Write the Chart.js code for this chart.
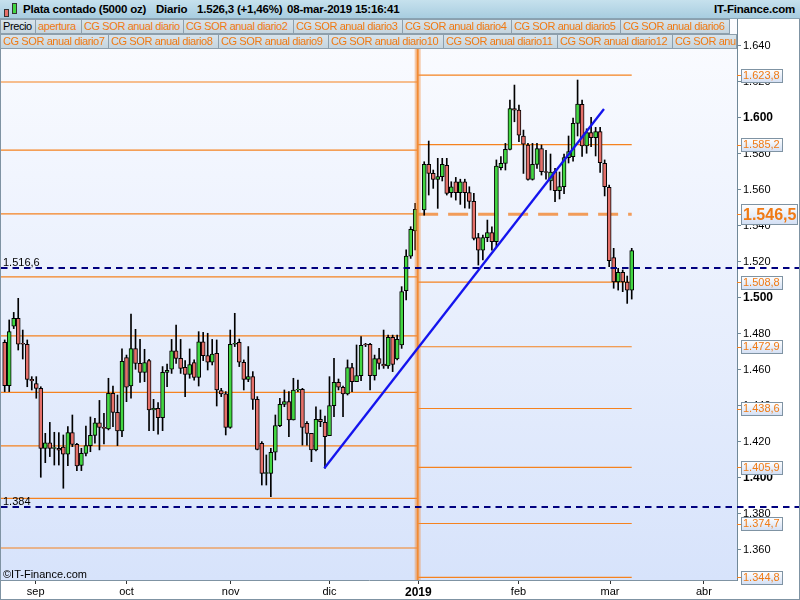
<!DOCTYPE html>
<html><head><meta charset="utf-8">
<script src="https://cdn.jsdelivr.net/npm/chart.js@4/dist/chart.umd.min.js"></script>
<style>
body{margin:0;width:800px;height:600px;overflow:hidden;background:#fff;font-family:"Liberation Sans",Arial,sans-serif;}
#wrap{position:relative;width:800px;height:600px;}
canvas{position:absolute;left:0;top:0;}
#hdr{position:absolute;left:0;top:0;width:800px;height:19px;background:linear-gradient(#c6e1ed,#a8cde0);border-bottom:1px solid #89a3b3;box-sizing:border-box;font-weight:bold;font-size:11.5px;letter-spacing:-0.2px;color:#000;}
.h{position:absolute;top:3px;white-space:nowrap;}
.lg{position:absolute;height:15px;box-sizing:border-box;border:1px solid #8d9fac;background:linear-gradient(#d9e4eb,#c5d5df);color:#f07a14;font-size:11px;line-height:13px;padding-left:2px;white-space:nowrap;overflow:hidden;letter-spacing:-0.4px;}
.ic{position:absolute;border:1px solid #333;box-sizing:border-box;}
</style></head>
<body><div id="wrap">
<canvas id="c" width="800" height="600"></canvas>
<div id="hdr">
 <div class="ic" style="left:4px;top:9px;width:5px;height:8px;background:#e5706a"></div>
 <div class="ic" style="left:12px;top:3px;width:5px;height:11px;background:#42d742"></div>
 <span class="h" style="left:23px">Plata contado (5000 oz)</span>
 <span class="h" style="left:156px">Diario</span>
 <span class="h" style="left:197px">1.526,3 (+1,46%)</span>
 <span class="h" style="left:287px">08-mar-2019 15:16:41</span>
 <span class="h" style="right:5px">IT-Finance.com</span>
</div>
<div id="legend"></div>
</div>
<script>
// ---------- data ----------
const legendRow1 = ["Precio","apertura","CG SOR anual diario","CG SOR anual diario2","CG SOR anual diario3","CG SOR anual diario4","CG SOR anual diario5","CG SOR anual diario6"];
const legendRow2 = ["CG SOR anual diario7","CG SOR anual diario8","CG SOR anual diario9","CG SOR anual diario10","CG SOR anual diario11","CG SOR anual diario12","CG SOR anual diario13"];

const openV = [1475.4,1451.3,1484.4,1488.7,1474.8,1474.3,1454.8,1452.4,1449.8,1416.5,
1419.6,1416.5,1416.5,1417.2,1413.3,1425.2,1418.7,1407.0,1413.7,1418.0,
1423.7,1430.7,1428.1,1427.2,1447.0,1436.5,1426.1,1466.9,1451.1,1471.9,
1463.7,1458.7,1465.2,1437.8,1438.7,1433.5,1458.7,1460.4,1470.7,1466.5,
1461.5,1457.6,1464.1,1455.9,1475.7,1468.0,1464.3,1469.3,1448.5,1446.7,
1428.1,1474.4,1475.4,1464.3,1454.8,1456.3,1443.7,1419.3,1402.6,1402.6,
1414.3,1429.1,1440.9,1442.4,1432.2,1448.9,1449.3,1430.4,1424.8,1415.6,
1432.6,1430.9,1423.5,1440.2,1453.1,1450.4,1446.7,1461.3,1453.5,1456.9,
1474.4,1474.3,1456.9,1466.3,1463.3,1462.2,1478.1,1466.1,1473.9,1504.1,
1523.3,1537.2,null,1548.9,1574.2,1569.2,1565.9,1567.4,1573.7,1558.5,
1564.6,1558.5,1564.6,1558.5,1553.7,1533.5,1526.6,1533.5,1536.3,1531.3,
1572.4,1574.8,1582.6,1605.3,1604.4,1590.0,1585.0,1565.9,1574.2,1583.0,
1570.2,1565.0,1570.2,1559.6,1561.9,1578.0,1578.5,1597.0,1607.6,1584.5,
1591.9,1589.1,1592.4,1574.8,1561.5,1522.4,1508.9,1514.3,1508.9,1504.4];
const closeV = [1451.3,1481.3,1488.7,1474.4,1474.4,1454.8,1454.0,1449.8,1416.5,1419.6,
1416.5,1416.9,1415.4,1413.3,1425.2,1418.7,1406.7,1413.7,1418.0,1423.7,
1430.7,1428.1,1427.6,1447.0,1436.5,1426.1,1464.8,1450.4,1471.9,1463.7,
1458.7,1464.1,1437.8,1438.7,1433.5,1458.7,1459.8,1470.7,1466.5,1460.9,
1457.6,1463.0,1455.9,1475.7,1468.0,1464.3,1468.9,1448.9,1446.7,1428.1,
1474.3,1474.8,1464.3,1454.8,1456.3,1443.7,1415.9,1402.6,1403.0,1414.3,
1429.1,1440.9,1442.4,1432.2,1448.9,1449.3,1428.1,1424.8,1415.6,1432.6,
1431.3,1423.0,1440.2,1453.1,1450.4,1446.7,1461.3,1453.5,1456.9,1473.7,
1473.9,1456.9,1466.3,1463.7,1462.2,1478.1,1463.1,1477.0,1503.5,1523.3,
1538.1,1549.2,null,1574.2,1569.2,1565.9,1567.4,1574.2,1558.1,1561.8,
1558.5,1564.6,1558.5,1553.7,1533.1,1526.6,1533.5,1536.3,1531.3,1573.3,
1574.8,1582.6,1605.3,1604.4,1590.5,1585.5,1565.9,1574.2,1583.0,1570.2,
1570.0,1570.0,1559.6,1561.9,1578.0,1581.3,1597.0,1607.8,1584.5,1591.9,
1589.1,1592.4,1575.2,1561.9,1520.8,1508.9,1514.3,1508.9,1504.3,1526.3];
const highV = [1476.7,1487.8,1492.0,1499.8,1482.2,1476.7,1456.3,1456.3,1450.7,1424.8,
1430.9,1425.4,1425.2,1423.9,1428.5,1435.0,1419.3,1416.5,1428.9,1433.9,
1433.1,1443.1,1435.9,1455.4,1451.1,1446.1,1471.7,1468.3,1491.1,1482.6,
1477.0,1471.5,1465.9,1443.7,1441.9,1461.9,1463.3,1477.0,1485.0,1477.0,
1465.2,1471.7,1465.6,1481.3,1480.9,1480.4,1477.0,1476.7,1449.8,1448.0,
1482.2,1491.5,1477.2,1465.6,1473.0,1459.1,1445.2,1420.2,1412.8,1416.5,
1435.0,1444.3,1448.9,1448.0,1455.4,1454.4,1449.8,1431.3,1424.8,1439.6,
1437.8,1434.4,1456.3,1466.5,1455.0,1451.1,1465.6,1463.7,1473.9,1478.5,
1474.8,1474.8,1468.3,1472.0,1482.2,1479.4,1479.4,1479.4,1506.3,1526.7,
1539.6,1552.6,null,1575.7,1587.2,1571.1,1577.6,1577.6,1577.6,1564.6,
1567.0,1566.0,1566.0,1561.8,1558.1,1535.9,1535.0,1543.3,1539.6,1576.7,
1578.5,1585.9,1610.0,1618.3,1607.2,1593.3,1585.9,1585.9,1585.9,1585.0,
1582.0,1580.0,1572.0,1570.0,1580.0,1590.0,1600.0,1621.1,1610.0,1594.0,
1600.4,1594.8,1594.8,1576.7,1562.8,1527.6,1516.5,1515.6,1512.2,1527.6];
const lowV = [1448.0,1448.0,1483.0,1471.1,1466.1,1450.7,1448.9,1444.3,1400.4,1408.5,
1411.9,1407.2,1407.2,1394.3,1406.9,1417.4,1404.1,1404.1,1412.2,1414.6,
1419.3,1415.6,1418.9,1426.7,1428.5,1418.0,1423.0,1442.4,1444.3,1460.4,
1453.1,1453.5,1426.3,1426.3,1424.3,1426.3,1450.7,1458.1,1463.7,1458.1,
1445.2,1455.4,1454.4,1451.1,1465.2,1460.0,1462.8,1440.0,1445.2,1423.9,
1427.6,1473.0,1461.9,1448.9,1453.5,1438.1,1415.6,1396.1,1396.1,1389.6,
1410.0,1428.5,1439.6,1423.0,1432.2,1448.0,1418.3,1418.3,1409.1,1415.0,
1428.5,1405.4,1423.5,1434.1,1448.9,1434.1,1446.1,1448.0,1453.5,1454.1,
1473.0,1448.9,1454.4,1460.4,1460.9,1460.9,1459.1,1465.6,1472.0,1498.9,
1522.0,1526.7,null,1546.0,1557.2,1560.9,1549.8,1565.0,1557.2,1556.0,
1554.4,1552.0,1550.0,1549.8,1532.2,1518.3,1521.1,1531.3,1526.6,1528.5,
1571.1,1571.1,1582.2,1597.9,1586.8,1569.2,1565.5,1565.5,1572.0,1568.3,
1566.0,1560.0,1553.5,1555.0,1558.0,1575.0,1576.0,1590.0,1578.6,1580.4,
1584.1,1578.9,1569.7,1556.7,1517.4,1505.4,1504.4,1503.5,1497.0,1499.4];

// yearly levels
const levels2018 = [1620.0,1582.2,1546.7,1511.7,1479.0,1447.6,1417.8,1388.7,1361.1];
const levels2019 = [1623.8,1585.2,1508.8,1472.9,1438.6,1405.9,1374.7,1344.8];
const apertura2019 = 1546.5;
const yearStart = 91.55;   // session slot of the 2018 -> 2019 change
const lastSlot = 139;
const hLines = [1516.6, 1384.0];
const trend = [{x:70.85, y:1405.4},{x:132.85, y:1605.0}];

const monthPos = [6.87,27.0,50.1,72.0,91.7,113.9,134.2,155.0];
const monthLabels = ["sep","oct","nov","dic","2019","feb","mar","abr"];
const yTicks = [1360,1380,1400,1420,1440,1460,1480,1500,1520,1540,1560,1580,1600,1620,1640];

// ---------- legend (html) ----------
const row1W = [36,47,103,111,110,110,110,110];
const row2W = [109,111,111,116,115,116,65];
function buildRow(names, widths, top){
  let x=0; const host=document.getElementById('legend');
  names.forEach((n,i)=>{
    const d=document.createElement('div'); d.className='lg';
    d.style.left=x+'px'; d.style.top=top+'px'; d.style.width=widths[i]+'px';
    if(n==='Precio') d.style.color='#000';
    d.textContent=n; host.appendChild(d); x+=widths[i]-1;
  });
}
buildRow(legendRow1,row1W,19);
buildRow(legendRow2,row2W,34);

// ---------- helpers ----------
function fmt(v){
  const s=v.toFixed(1).split('.');
  const a=s[0];
  let r=a.slice(0,-3)+'.'+a.slice(-3);
  if(s[1]!=='0') r+=','+s[1];
  return r;
}
const ORANGE='#f5821f';
const slots = openV.map((_,i)=>i);
const bodies=[], wicks=[], bodyColors=[];
slots.forEach(i=>{
  if(openV[i]===null) return;
  let o=openV[i], c=closeV[i];
  if(Math.abs(o-c)<0.4){ c = c>=o ? o+0.4 : o-0.4; }
  bodies.push({x:i,y:[o,c]});
  wicks.push({x:i,y:[lowV[i],highV[i]]});
  bodyColors.push(closeV[i]>=openV[i] ? '#42d742' : '#e5706a');
});

const levelSets=[];
levels2018.forEach(v=>levelSets.push({type:'line',data:[{x:-2,y:v},{x:yearStart-0.1,y:v}],borderColor:ORANGE,borderWidth:1.2,pointRadius:0,order:20}));
levels2019.forEach(v=>levelSets.push({type:'line',data:[{x:yearStart+0.1,y:v},{x:lastSlot,y:v}],borderColor:ORANGE,borderWidth:1.1,pointRadius:0,order:20}));
levelSets.push({type:'line',data:[{x:yearStart+0.1,y:apertura2019},{x:lastSlot,y:apertura2019}],borderColor:'rgba(242,140,60,0.85)',borderWidth:3,borderDash:[20,10],pointRadius:0,order:19});
// vertical step between yearly sets
levelSets.push({type:'line',data:[{x:yearStart,y:1300},{x:yearStart,y:1700}],borderColor:'rgba(242,140,60,0.45)',borderWidth:6,pointRadius:0,order:3});
levelSets.push({type:'line',data:[{x:yearStart,y:1300},{x:yearStart,y:1700}],borderColor:'#f28a2c',borderWidth:2,pointRadius:0,order:3});

const bgPlugin={id:'bg',beforeDraw(ch){
  const {ctx,chartArea:a}=ch;
  ctx.save();
  ctx.fillStyle='#fff'; ctx.fillRect(0,0,800,600);
  const g=ctx.createLinearGradient(0,a.top,0,a.bottom);
  g.addColorStop(0,'#fbfcff'); g.addColorStop(1,'#d7e3fb');
  ctx.fillStyle=g; ctx.fillRect(a.left,a.top,a.right-a.left,a.bottom-a.top);
  ctx.restore();
}};
const overlay={id:'ov',afterDraw(ch){
  const {ctx,chartArea:a,scales:{y}}=ch;
  ctx.save();
  // navy dashed lines
  ctx.strokeStyle='#00007f'; ctx.lineWidth=2; ctx.setLineDash([6.5,5]);
  hLines.forEach(v=>{const py=Math.round(y.getPixelForValue(v));
    ctx.beginPath(); ctx.moveTo(1,py); ctx.lineTo(800,py); ctx.stroke();});
  ctx.setLineDash([]);
  ctx.fillStyle='#000'; ctx.font='11px "Liberation Sans", Arial'; ctx.textBaseline='alphabetic';
  hLines.forEach(v=>{const py=y.getPixelForValue(v); ctx.fillText(fmt(v),3,py-2);});
  ctx.fillText('\u00a9IT-Finance.com',3,578);
  // value labels on right axis
  const boxes=levels2019.map(v=>({v,big:false})).concat([{v:apertura2019,big:true}]);
  boxes.forEach(b=>{
    const py=y.getPixelForValue(b.v);
    ctx.strokeStyle=ORANGE; ctx.lineWidth=1;
    ctx.beginPath(); ctx.moveTo(737,Math.round(py)+0.5); ctx.lineTo(741,Math.round(py)+0.5); ctx.stroke();
    const h=b.big?20:13, w=b.big?56:41, x0=741, y0=Math.round(py-h/2)+0.5;
    const g=ctx.createLinearGradient(0,y0,0,y0+h);
    g.addColorStop(0,'#ffffff'); g.addColorStop(1,'#d3dff4');
    ctx.fillStyle=g; ctx.fillRect(x0,y0,w,h);
    ctx.strokeStyle='#7f93a3'; ctx.strokeRect(x0+0.5,y0,w,h);
    ctx.fillStyle='#f07a14';
    ctx.font=b.big?'bold 16px "Liberation Sans", Arial':'11px "Liberation Sans", Arial';
    ctx.textBaseline='middle';
    ctx.fillText(fmt(b.v),x0+2,py+ (b.big?1:0.5));
  });
  // frame
  ctx.strokeStyle='#7f93a3'; ctx.lineWidth=1;
  ctx.strokeRect(0.5,0.5,799,599);
  ctx.beginPath(); ctx.moveTo(0.5,a.top); ctx.lineTo(0.5,a.bottom); ctx.stroke();
  ctx.restore();
}};

Chart.defaults.font.family='"Liberation Sans", Arial, sans-serif';
new Chart(document.getElementById('c'),{
  type:'bar',
  data:{datasets:[
    ...levelSets,
    {type:'line',data:trend,borderColor:'#1414ee',borderWidth:2.3,pointRadius:0,order:1},
    {label:'wick',data:wicks,backgroundColor:'#000',barThickness:1,order:6,grouped:false},
    {label:'body',data:bodies,backgroundColor:bodyColors,borderColor:'#000',borderWidth:1,borderSkipped:false,barThickness:4,order:5,grouped:false}
  ]},
  options:{
    animation:false,responsive:false,
    layout:{padding:{top:19,left:1,right:0,bottom:0}},
    plugins:{legend:{display:false},tooltip:{enabled:false}},
    scales:{
      x:{type:'linear',min:-0.82,max:162.34,offset:false,
        afterBuildTicks:s=>{s.ticks=monthPos.map(v=>({value:v}));},
        afterFit:s=>{s.height=20;},
        grid:{drawOnChartArea:false,drawTicks:true,tickLength:4,color:'#333',offset:false},
        border:{color:'#7f93a3',width:1},
        ticks:{autoSkip:false,maxRotation:0,padding:1,color:'#000',
          callback:(v,i)=>monthLabels[i],
          font:c=>(c.index===4?{size:12,weight:'bold'}:{size:11})}
      },
      y:{position:'right',min:1343.33,max:1655,
        afterBuildTicks:s=>{s.ticks=yTicks.map(v=>({value:v}));},
        afterFit:s=>{s.width=63;},
        grid:{drawOnChartArea:false,drawTicks:true,tickLength:4,color:'#708898'},
        border:{color:'#708898',width:1},
        ticks:{padding:2,color:'#000',callback:v=>(v/1000).toFixed(3),
          font:c=>(c.tick&&c.tick.value%100===0?{size:12,weight:'bold'}:{size:11})}
      }
    }
  },
  plugins:[bgPlugin,overlay]
});
</script>
</body></html>
